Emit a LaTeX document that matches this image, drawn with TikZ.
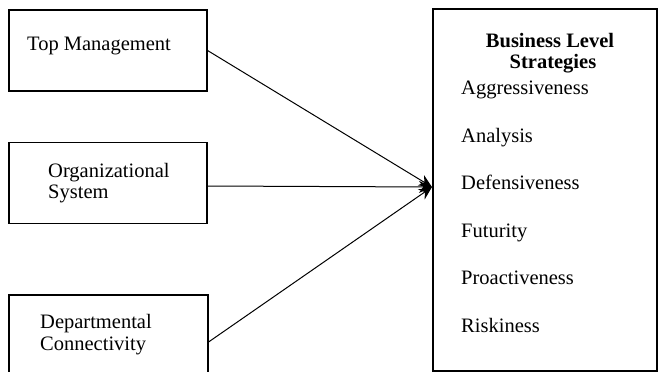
\documentclass[tikz,border=0pt]{standalone}
\usepackage{fontspec}
\setmainfont{Liberation Serif}
\usetikzlibrary{arrows.meta}
\begin{document}
\begin{tikzpicture}[x=1pt,y=-1pt,
  box/.style={draw,line width=1.1pt,inner sep=0pt},
  lbl/.style={anchor=base west,inner sep=0pt,font=\fontsize{20.5}{24}\selectfont},
  link/.style={line width=1pt,-{Stealth[length=13pt,width=12pt]}}]
      \useasboundingbox (0,0) rectangle (659,372);
      \node[box,minimum width=198,minimum height=81] (top) at (108,50.5) {};
      \node[box,minimum width=198,minimum height=81] (org) at (108,183) {};
      \node[box,minimum width=199,minimum height=94] (dep) at (108.5,342) {};
      \node[box,minimum width=224,minimum height=362] (bls) at (545,190) {};
      \node[lbl] (topname) at (27,50) {Top Management};
      \node[lbl] (orgname) at (48,177) {Organizational};
      \node[lbl] (orgname2) at (48,198) {System};
      \node[lbl] (depname) at (40,328) {Departmental};
      \node[lbl] (depname2) at (40,350) {Connectivity};
      \node[lbl,anchor=base,font=\fontsize{20.5}{24}\selectfont\bfseries] (blsname) at (550,47) {Business Level};
      \node[lbl,anchor=base,font=\fontsize{20.5}{24}\selectfont\bfseries] (blsname2) at (553,68) {Strategies};
      \node[lbl] (agg) at (461,94) {Aggressiveness};
      \node[lbl] (ana) at (461,142) {Analysis};
      \node[lbl] (def) at (461,189) {Defensiveness};
      \node[lbl] (fut) at (461,237) {Futurity};
      \node[lbl] (pro) at (461,284) {Proactiveness};
      \node[lbl] (ris) at (461,332) {Riskiness};
      \coordinate (hub) at (432,187);
      \draw[link] (top.east) -- (hub);
      \draw[link] ([yshift=-3pt]org.east) -- (hub);
      \draw[link] (dep.east) -- (hub);
\end{tikzpicture}
\end{document}
